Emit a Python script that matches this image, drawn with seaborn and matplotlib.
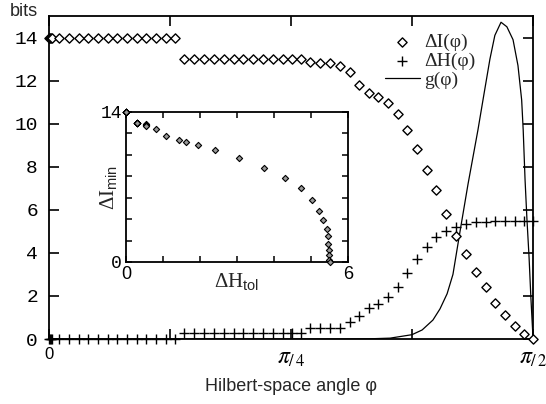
import numpy as np
import pandas as pd
import seaborn as sns
import matplotlib.pyplot as plt

# --- data ---
# Hilbert-space angle (rad) where dI / dH were sampled
phi = [0.000, 0.003, 0.006, 0.011, 0.032, 0.065, 0.097, 0.127, 0.159, 0.191,
       0.221, 0.253, 0.286, 0.315, 0.347, 0.380, 0.409,
       0.438, 0.471, 0.503, 0.535, 0.568, 0.600, 0.630, 0.662, 0.695, 0.727,
       0.760, 0.789, 0.818, 0.847, 0.880, 0.912, 0.945, 0.977, 1.006, 1.039,
       1.068, 1.100, 1.133, 1.162, 1.194, 1.227, 1.256, 1.288, 1.321, 1.353,
       1.386, 1.418, 1.448, 1.480, 1.513, 1.542, 1.571]

delta_i = [14, 14, 14, 14, 14, 14, 14, 14, 14, 14,
           14, 14, 14, 14, 14, 14, 14,
           13.0, 13.0, 13.0, 13.0, 13.0, 13.0, 13.0, 13.0, 13.0, 13.0,
           13.0, 13.0, 13.0, 12.85, 12.8, 12.8, 12.7, 12.4, 11.78, 11.43,
           11.24, 10.96, 10.47, 9.72, 8.82, 7.86, 6.9, 5.8, 4.8, 3.95,
           3.1, 2.4, 1.69, 1.12, 0.62, 0.22, 0.0]

delta_h = [0, 0, 0, 0, 0, 0, 0, 0, 0, 0,
           0, 0, 0, 0, 0, 0, 0,
           0.3, 0.3, 0.3, 0.3, 0.3, 0.3, 0.3, 0.3, 0.3, 0.3,
           0.3, 0.3, 0.3, 0.53, 0.53, 0.53, 0.53, 0.8, 1.07, 1.43,
           1.63, 1.94, 2.4, 3.06, 3.72, 4.29, 4.73, 5.02, 5.22, 5.33,
           5.43, 5.45, 5.47, 5.48, 5.49, 5.49, 5.5]

# g(phi) curve
g_phi = [0.000, 0.944, 1.042, 1.107, 1.178, 1.211, 1.246, 1.269, 1.292, 1.311,
         1.334, 1.360, 1.392, 1.412, 1.431, 1.447, 1.467, 1.486, 1.506, 1.522,
         1.534, 1.539, 1.545, 1.551, 1.558, 1.564, 1.571]
g_val = [0.0, 0.0, 0.01, 0.04, 0.2, 0.42, 0.88, 1.4, 2.1, 3.0,
         5.0, 7.2, 9.7, 11.4, 13.0, 14.1, 14.71, 14.5, 13.9, 12.7,
         11.1, 9.7, 7.4, 5.6, 3.8, 1.9, 0.0]

x_ticks = [0, np.pi / 8, np.pi / 4, 3 * np.pi / 8, np.pi / 2]
x_ticklabels = ["0", "", r"$\pi_{/\,4}$", "", r"$\pi_{/\,2}$"]
y_ticks = [0, 2, 4, 6, 8, 10, 12, 14]

df = pd.DataFrame({"phi": phi, "dI": delta_i, "dH": delta_h})
g_df = pd.DataFrame({"phi": g_phi, "g": g_val})

sns.set_theme(style="ticks")
plt.rcParams["font.family"] = ["Liberation Sans", "DejaVu Sans"]
plt.rcParams["mathtext.fontset"] = "stix"
# used only by the inset axis labels (serif letters, sans subscripts)
plt.rcParams["mathtext.rm"] = "Liberation Serif"
plt.rcParams["mathtext.it"] = "Liberation Serif:italic"
plt.rcParams["mathtext.sf"] = "Liberation Sans"

fig = plt.figure(figsize=(5.46, 4.04), dpi=100)
ax = fig.add_axes([49 / 546, 65 / 404, 484 / 546, 323 / 404])

sns.scatterplot(data=df, x="phi", y="dI", ax=ax, marker="D", s=22,
                color="white", edgecolor="black", linewidth=1,
                label="ΔI(φ)", clip_on=False, zorder=4)
sns.scatterplot(data=df, x="phi", y="dH", ax=ax, marker="+", s=45,
                color="black", linewidth=1, label="ΔH(φ)",
                clip_on=False, zorder=4)
sns.lineplot(data=g_df, x="phi", y="g", ax=ax, color="black", lw=0.9,
             sort=False, estimator=None, label="g(φ)", zorder=3)

ax.set_xlim(0, np.pi / 2)
ax.set_ylim(0, 15)
ax.set_xticks(x_ticks)
ax.set_xticklabels(x_ticklabels)
ax.set_yticks(y_ticks)
ax.set_yticklabels([str(v) for v in y_ticks], family="Liberation Mono",
                   fontsize=14)
for lab in ax.get_xticklabels():
    lab.set_fontsize(17 if "pi" in lab.get_text() else 12)
ax.tick_params(direction="in", top=True, right=True, length=7, width=1.2,
               colors="black")
ax.tick_params(axis="y", pad=8)
ax.tick_params(axis="x", pad=6)
for sp in ax.spines.values():
    sp.set_linewidth(1.3)
    sp.set_color("black")

ax.set_ylabel("")
ax.set_xlabel("Hilbert-space angle φ", fontsize=13)
ax.xaxis.set_label_coords(0.5, -0.12)
fig.text(10 / 546, 1 - 11 / 404, "bits", ha="left", va="center", fontsize=13)

handles, labels = ax.get_legend_handles_labels()
ax.legend(handles, labels, loc="upper left", bbox_to_anchor=(0.694, 0.945),
          frameon=False, borderpad=0, borderaxespad=0, handlelength=1.8,
          handletextpad=0.2, labelspacing=0.05,
          prop={"family": "Liberation Serif", "size": 14})

# --- inset: dI against dH ---
ax2 = fig.add_axes([126 / 546, 142 / 404, 222 / 546, 150 / 404])
sns.scatterplot(data=df, x="dH", y="dI", ax=ax2, marker="D", s=10,
                color="#9a9a9a", edgecolor="black", linewidth=0.8,
                clip_on=False, legend=False, zorder=4)
ax2.set_xlim(0, 6)
ax2.set_ylim(0, 14)
ax2.set_xticks(range(7))
ax2.set_xticklabels(["0", "", "", "", "", "", "6"], fontsize=13)
ax2.set_yticks(range(0, 15, 2))
ax2.set_yticklabels(["0", "", "", "", "", "", "", "14"],
                    family="Liberation Mono", fontsize=13)
ax2.tick_params(direction="in", top=True, right=True, length=4, width=1.1,
                colors="black", pad=3)
for sp in ax2.spines.values():
    sp.set_linewidth(1.3)
    sp.set_color("black")
ax2.set_xlabel(r"$\Delta\mathrm{H}_{\mathsf{tol}}$", fontsize=15,
               math_fontfamily="custom")
ax2.xaxis.set_label_coords(0.5, -0.06)
ax2.set_ylabel(r"$\Delta\mathrm{I}_{\mathsf{min}}$", fontsize=15,
               math_fontfamily="custom")
ax2.yaxis.set_label_coords(-0.03, 0.5)

fig.savefig("out.png", dpi=100)
